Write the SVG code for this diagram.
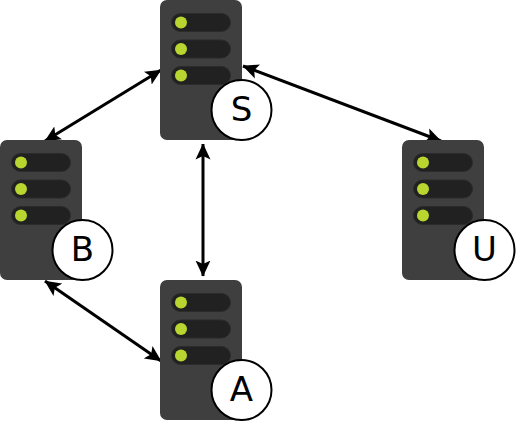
<svg xmlns="http://www.w3.org/2000/svg" width="516" height="422" viewBox="0 0 516 422">
<style>
.body{fill:#3f3f3f}
.pill{fill:#212121;stroke:#2b2b2b;stroke-width:1}
.dot{fill:#b9d530}
.badge{fill:#fff;stroke:#000;stroke-width:2}
.label{font-family:"DejaVu Sans",sans-serif;font-size:34px;fill:#000;text-anchor:middle}
.link{stroke:#000;stroke-width:3;fill:none;marker-start:url(#head);marker-end:url(#head)}
</style>
<defs>
<marker id="head" viewBox="0 0 16 16" refX="15.500" refY="8" markerWidth="16" markerHeight="16" markerUnits="userSpaceOnUse" orient="auto-start-reverse">
<path d="M0 0.500L16 8L0 15.500L3.500 8Z" fill="#000"/>
</marker>
<g id="server">
<rect class="body" x="0" y="0" width="82" height="140" rx="7"/>
<rect class="pill" x="11.500" y="13.500" width="59" height="18" rx="9"/>
<rect class="pill" x="11.500" y="40" width="59" height="18" rx="9"/>
<rect class="pill" x="11.500" y="66.500" width="59" height="18" rx="9"/>
<circle class="dot" cx="21" cy="22.500" r="6"/>
<circle class="dot" cx="21" cy="49" r="6"/>
<circle class="dot" cx="21" cy="75.500" r="6"/>
</g>
</defs>
<g id="connectors">
<path class="link" d="M161 70L45 141"/>
<path class="link" d="M243 66L441 141"/>
<path class="link" d="M203 144L203 276"/>
<path class="link" d="M45 281L161 361"/>
</g>
<g id="node-S"><use href="#server" x="160" y="0"/><circle class="badge" cx="241.500" cy="110" r="30"/><text class="label" x="241.500" y="121">S</text></g>
<g id="node-B"><use href="#server" x="0" y="140"/><circle class="badge" cx="82.500" cy="250" r="30"/><text class="label" x="82.500" y="261">B</text></g>
<g id="node-U"><use href="#server" x="402" y="140"/><circle class="badge" cx="484.500" cy="250" r="30"/><text class="label" x="484.500" y="261">U</text></g>
<g id="node-A"><use href="#server" x="160" y="280"/><circle class="badge" cx="241.500" cy="390" r="30"/><text class="label" x="241.500" y="401">A</text></g>
</svg>
